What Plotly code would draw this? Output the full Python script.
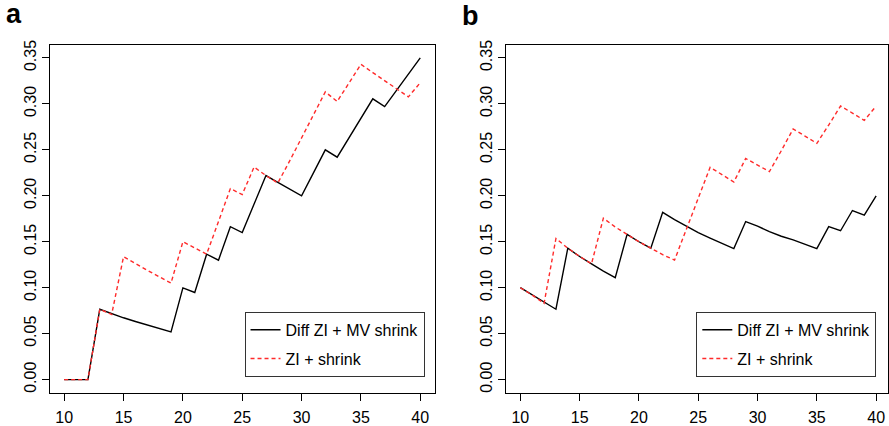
import plotly.graph_objects as go

x_vals = list(range(10, 41))

# Panel a
a_diff = [0, 0, 0, 0.0766, 0.0718, 0.0673, 0.0633, 0.0596, 0.0558, 0.052,
          0.0998, 0.0948, 0.1365, 0.130, 0.1664, 0.160, 0.191, 0.222, 0.2147, 0.2073,
          0.200, 0.225, 0.250, 0.242, 0.263, 0.284, 0.3055, 0.297, 0.315, 0.332, 0.350]
a_zi = [0, 0, 0, 0.0766, 0.0709, 0.1337, 0.126, 0.119, 0.112, 0.105,
        0.150, 0.143, 0.1365, 0.172, 0.2078, 0.2014, 0.2313, 0.222, 0.2139, 0.238,
        0.263, 0.288, 0.313, 0.3026, 0.323, 0.343, 0.334, 0.325, 0.3165, 0.3076, 0.323]

# Panel b
b_diff = [0.100, 0.092, 0.084, 0.0766, 0.143, 0.134, 0.126, 0.118, 0.111, 0.158,
          0.150, 0.143, 0.182, 0.174, 0.167, 0.160, 0.154, 0.148, 0.1426, 0.172,
          0.167, 0.161, 0.156, 0.152, 0.147, 0.1426, 0.1664, 0.162, 0.184, 0.179, 0.200]
b_zi = [0.100, 0.092, 0.083, 0.1536, 0.143, 0.134, 0.126, 0.1757, 0.166, 0.158,
        0.150, 0.143, 0.136, 0.130, 0.164, 0.198, 0.231, 0.223, 0.215, 0.2406,
        0.233, 0.2263, 0.249, 0.2727, 0.265, 0.257, 0.277, 0.2976, 0.290, 0.282, 0.2976]

series_names = ["Diff ZI + MV shrink", "ZI + shrink"]
x_ticks = [10, 15, 20, 25, 30, 35, 40]
y_ticks = [0, 0.05, 0.10, 0.15, 0.20, 0.25, 0.30, 0.35]
panel_labels = ["a", "b"]

W, H = 889, 426
FONT = "Liberation Sans, Arial, Helvetica, sans-serif"

fig = go.Figure()

panels = [(a_diff, a_zi, "x", "y", "legend"), (b_diff, b_zi, "x2", "y2", "legend2")]
for diff, zi, xa, ya, lg in panels:
    fig.add_trace(go.Scatter(x=x_vals, y=diff, mode="lines", name=series_names[0],
                             line=dict(color="black", width=1.4), xaxis=xa, yaxis=ya,
                             legend=lg, legendgroup=lg + "d"))
    fig.add_trace(go.Scatter(x=x_vals, y=zi, mode="lines", name=series_names[1],
                             line=dict(color="#ff2a2a", width=1.4, dash="4px,3px"),
                             xaxis=xa, yaxis=ya, legend=lg, legendgroup=lg + "z"))

def xaxis_cfg(dom, rng):
    return dict(domain=dom, range=rng, tickvals=x_ticks, ticks="outside", ticklen=7,
                tickcolor="black", showline=True, linecolor="black", linewidth=1,
                mirror=True, showgrid=False, zeroline=False, ticklabelstandoff=3,
                tickfont=dict(size=16, color="black", family=FONT))

def yaxis_cfg(anchor):
    return dict(domain=[32/H, 1 - 40.7/H], range=[-0.014, 0.364], tickvals=y_ticks,
                tickformat=".2f", ticks="outside", ticklen=7, tickcolor="black",
                tickangle=-90, showline=True, linecolor="black", linewidth=1,
                mirror=True, showgrid=False, zeroline=False, anchor=anchor,
                tickfont=dict(size=16, color="black", family=FONT))

leg_common = dict(bordercolor="#333333", borderwidth=1, bgcolor="white",
                  font=dict(size=16, color="black", family=FONT),
                  xanchor="right", yanchor="bottom", traceorder="grouped",
                  tracegroupgap=5)

fig.update_layout(
    width=W, height=H,
    margin=dict(l=0, r=0, t=0, b=0),
    paper_bgcolor="white", plot_bgcolor="white",
    showlegend=True,
    xaxis=xaxis_cfg([50/W, 435/W], [8.8, 41.2]) | dict(anchor="y"),
    yaxis=yaxis_cfg("x"),
    xaxis2=xaxis_cfg([506.7/W, 1.0], [8.8, 41.0]) | dict(anchor="y2"),
    yaxis2=yaxis_cfg("x2"),
    legend=leg_common | dict(x=425/W, y=48/H),
    legend2=leg_common | dict(x=877.3/W, y=48/H),
    annotations=[
        dict(text="<b>%s</b>" % panel_labels[0], x=14/W, y=1 - 26/H, xref="paper", yref="paper",
             xanchor="center", yanchor="bottom", showarrow=False,
             font=dict(size=27, color="black", family=FONT)),
        dict(text="<b>%s</b>" % panel_labels[1], x=471/W, y=1 - 28/H, xref="paper", yref="paper",
             xanchor="center", yanchor="bottom", showarrow=False,
             font=dict(size=27, color="black", family=FONT)),
    ],
)

fig.write_html("out.html", config={"displayModeBar": False},
               post_script="document.body.style.margin='0';document.body.style.overflow='hidden';")
